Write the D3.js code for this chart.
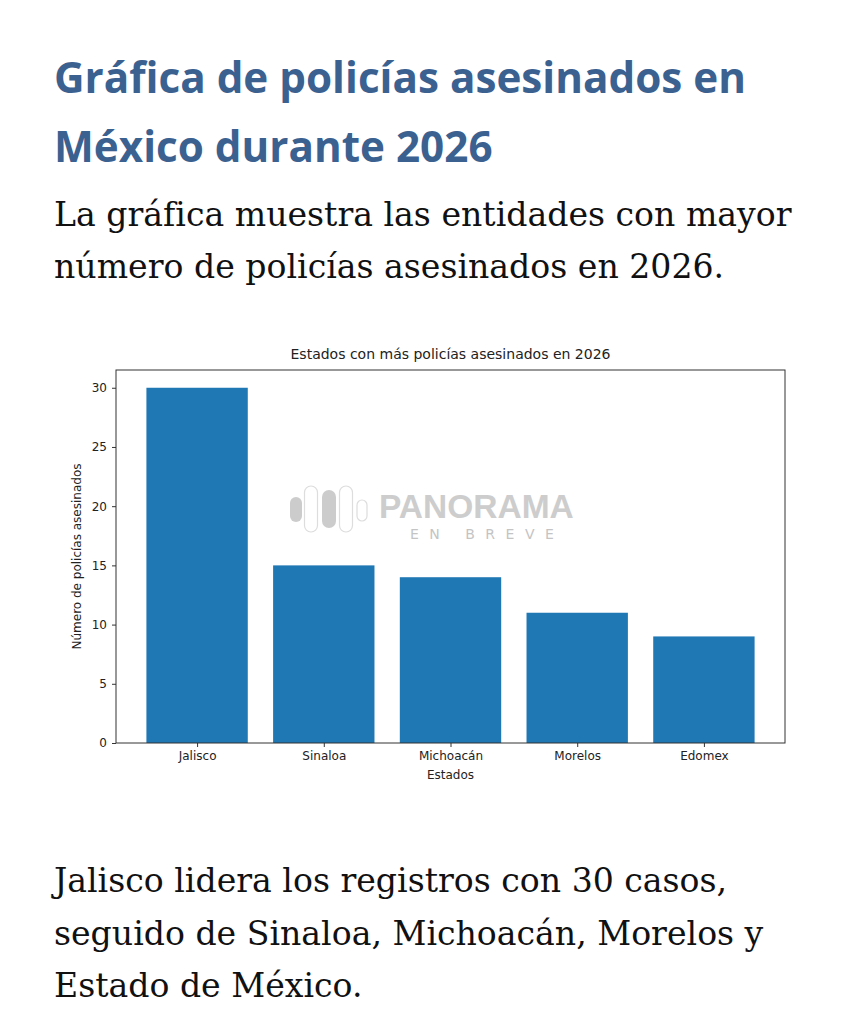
<!DOCTYPE html>
<html lang="es">
<head>
<meta charset="UTF-8">
<title>Policías asesinados 2026</title>
<script src="https://d3js.org/d3.v7.min.js"></script>
<style>
  body { margin: 0; background: #fff; }
  svg { display: block; }
  .head { font-family: "Open Sans", Lato, sans-serif; font-weight: 700; fill: #3b6191; }
  .body { font-family: "DejaVu Serif", "Liberation Serif", serif; fill: #111; }
  .chart text { font-family: "DejaVu Sans", sans-serif; fill: #222; }
</style>
</head>
<body>
<svg id="page" width="857" height="1024"></svg>
<script>
// chart data
const estados = ["Jalisco", "Sinaloa", "Michoacán", "Morelos", "Edomex"];
const casos = [30, 15, 14, 11, 9];
const yTicks = [0, 5, 10, 15, 20, 25, 30];

const titleLines = ["Gráfica de policías asesinados en", "México durante 2026"];
const introLines = ["La gráfica muestra las entidades con mayor", "número de policías asesinados en 2026."];
const outroLines = ["Jalisco lidera los registros con 30 casos,", "seguido de Sinaloa, Michoacán, Morelos y", "Estado de México."];

let svg = d3.select('#page');

// size a block of lines so its first line spans the given width
function fitSize(sel, width) {
  let node = sel.node();
  let fs = +sel.attr('font-size');
  let w = node.getComputedTextLength();
  sel.attr('font-size', fs * width / w);
  return fs * width / w;
}

// page text
let heads = svg.selectAll('text.head').data(titleLines).enter().append('text')
  .attr('class', 'head').attr('x', 54).attr('y', (d, i) => 93 + i * 69)
  .attr('font-size', 38).text(d => d);
let hs = fitSize(heads.filter((d, i) => i == 0), 692);
heads.attr('font-size', hs);

let intro = svg.selectAll('text.intro').data(introLines).enter().append('text')
  .attr('class', 'body intro').attr('x', 54).attr('y', (d, i) => 226 + i * 52)
  .attr('font-size', 33).text(d => d);
let bs = fitSize(intro.filter((d, i) => i == 0), 738);
intro.attr('font-size', bs);
svg.selectAll('text.outro').data(outroLines).enter().append('text')
  .attr('class', 'body outro').attr('x', 54).attr('y', (d, i) => 892 + i * 52.5)
  .attr('font-size', bs).text(d => d);

// plot area (matplotlib style)
const pLeft = 116, pRight = 785, pTop = 370, pBottom = 743;
let chart = svg.append('g').attr('class', 'chart');

let x = d3.scaleLinear().domain([-0.64, estados.length - 1 + 0.64]).range([pLeft, pRight]);
let y = d3.scaleLinear().domain([0, d3.max(casos) * 1.05]).range([pBottom, pTop]);

chart.selectAll('rect.bar').data(casos).enter().append('rect')
  .attr('class', 'bar')
  .attr('x', (d, i) => x(i - 0.4))
  .attr('width', (d, i) => x(i + 0.4) - x(i - 0.4))
  .attr('y', d => y(d))
  .attr('height', d => y(0) - y(d))
  .attr('fill', '#1f77b4');

// watermark
let wm = chart.append('g');
const pills = [[296, 497, 12, 25, '#cccccc', 'none'], [311, 486, 13, 46, '#ffffff', '#dddddd'],
               [329, 490, 14, 38, '#cccccc', 'none'], [346, 486, 13, 46, '#ffffff', '#dddddd'],
               [362, 500, 10, 21, '#ffffff', '#dddddd']];
wm.selectAll('rect').data(pills).enter().append('rect')
  .attr('x', d => d[0] - d[2] / 2).attr('y', d => d[1]).attr('width', d => d[2]).attr('height', d => d[3])
  .attr('rx', d => d[2] / 2).attr('fill', d => d[4]).attr('stroke', d => d[5]).attr('stroke-width', 1.2);
wm.append('text').attr('x', 379).attr('y', 518).attr('font-size', 33.5).attr('font-weight', 700)
  .style('fill', '#cdcdcd').style('font-family', '"Liberation Sans", Arial, sans-serif').text('PANORAMA');
wm.append('text').attr('x', 410).attr('y', 539).attr('font-size', 14).attr('letter-spacing', 10.5)
  .style('fill', '#c4c4c4').style('font-family', '"DejaVu Sans", sans-serif').text('EN BREVE');

// axes
let xAxis = d3.axisBottom(x).tickValues(d3.range(estados.length)).tickFormat(i => estados[i]).tickSize(4).tickPadding(4);
let yAxis = d3.axisLeft(y).tickValues(yTicks).tickSize(4).tickPadding(5);

let gx = chart.append('g').attr('transform', `translate(0,${pBottom})`).call(xAxis);
let gy = chart.append('g').attr('transform', `translate(${pLeft},0)`).call(yAxis);
[gx, gy].forEach(g => {
  g.select('.domain').remove();
  g.selectAll('line').attr('stroke', '#333');
  g.selectAll('text').attr('font-size', 12).style('fill', '#222');
});

chart.append('rect').attr('x', pLeft).attr('y', pTop).attr('width', pRight - pLeft).attr('height', pBottom - pTop)
  .attr('fill', 'none').attr('stroke', '#333').attr('stroke-width', 1);

chart.append('text').attr('x', (pLeft + pRight) / 2).attr('y', 359).attr('text-anchor', 'middle')
  .attr('font-size', 14).text('Estados con más policías asesinados en 2026');
chart.append('text').attr('x', (pLeft + pRight) / 2).attr('y', 779).attr('text-anchor', 'middle')
  .attr('font-size', 12).text('Estados');
chart.append('text').attr('transform', `translate(81,${(pTop + pBottom) / 2}) rotate(-90)`)
  .attr('text-anchor', 'middle').attr('font-size', 12).text('Número de policías asesinados');
</script>
</body>
</html>
